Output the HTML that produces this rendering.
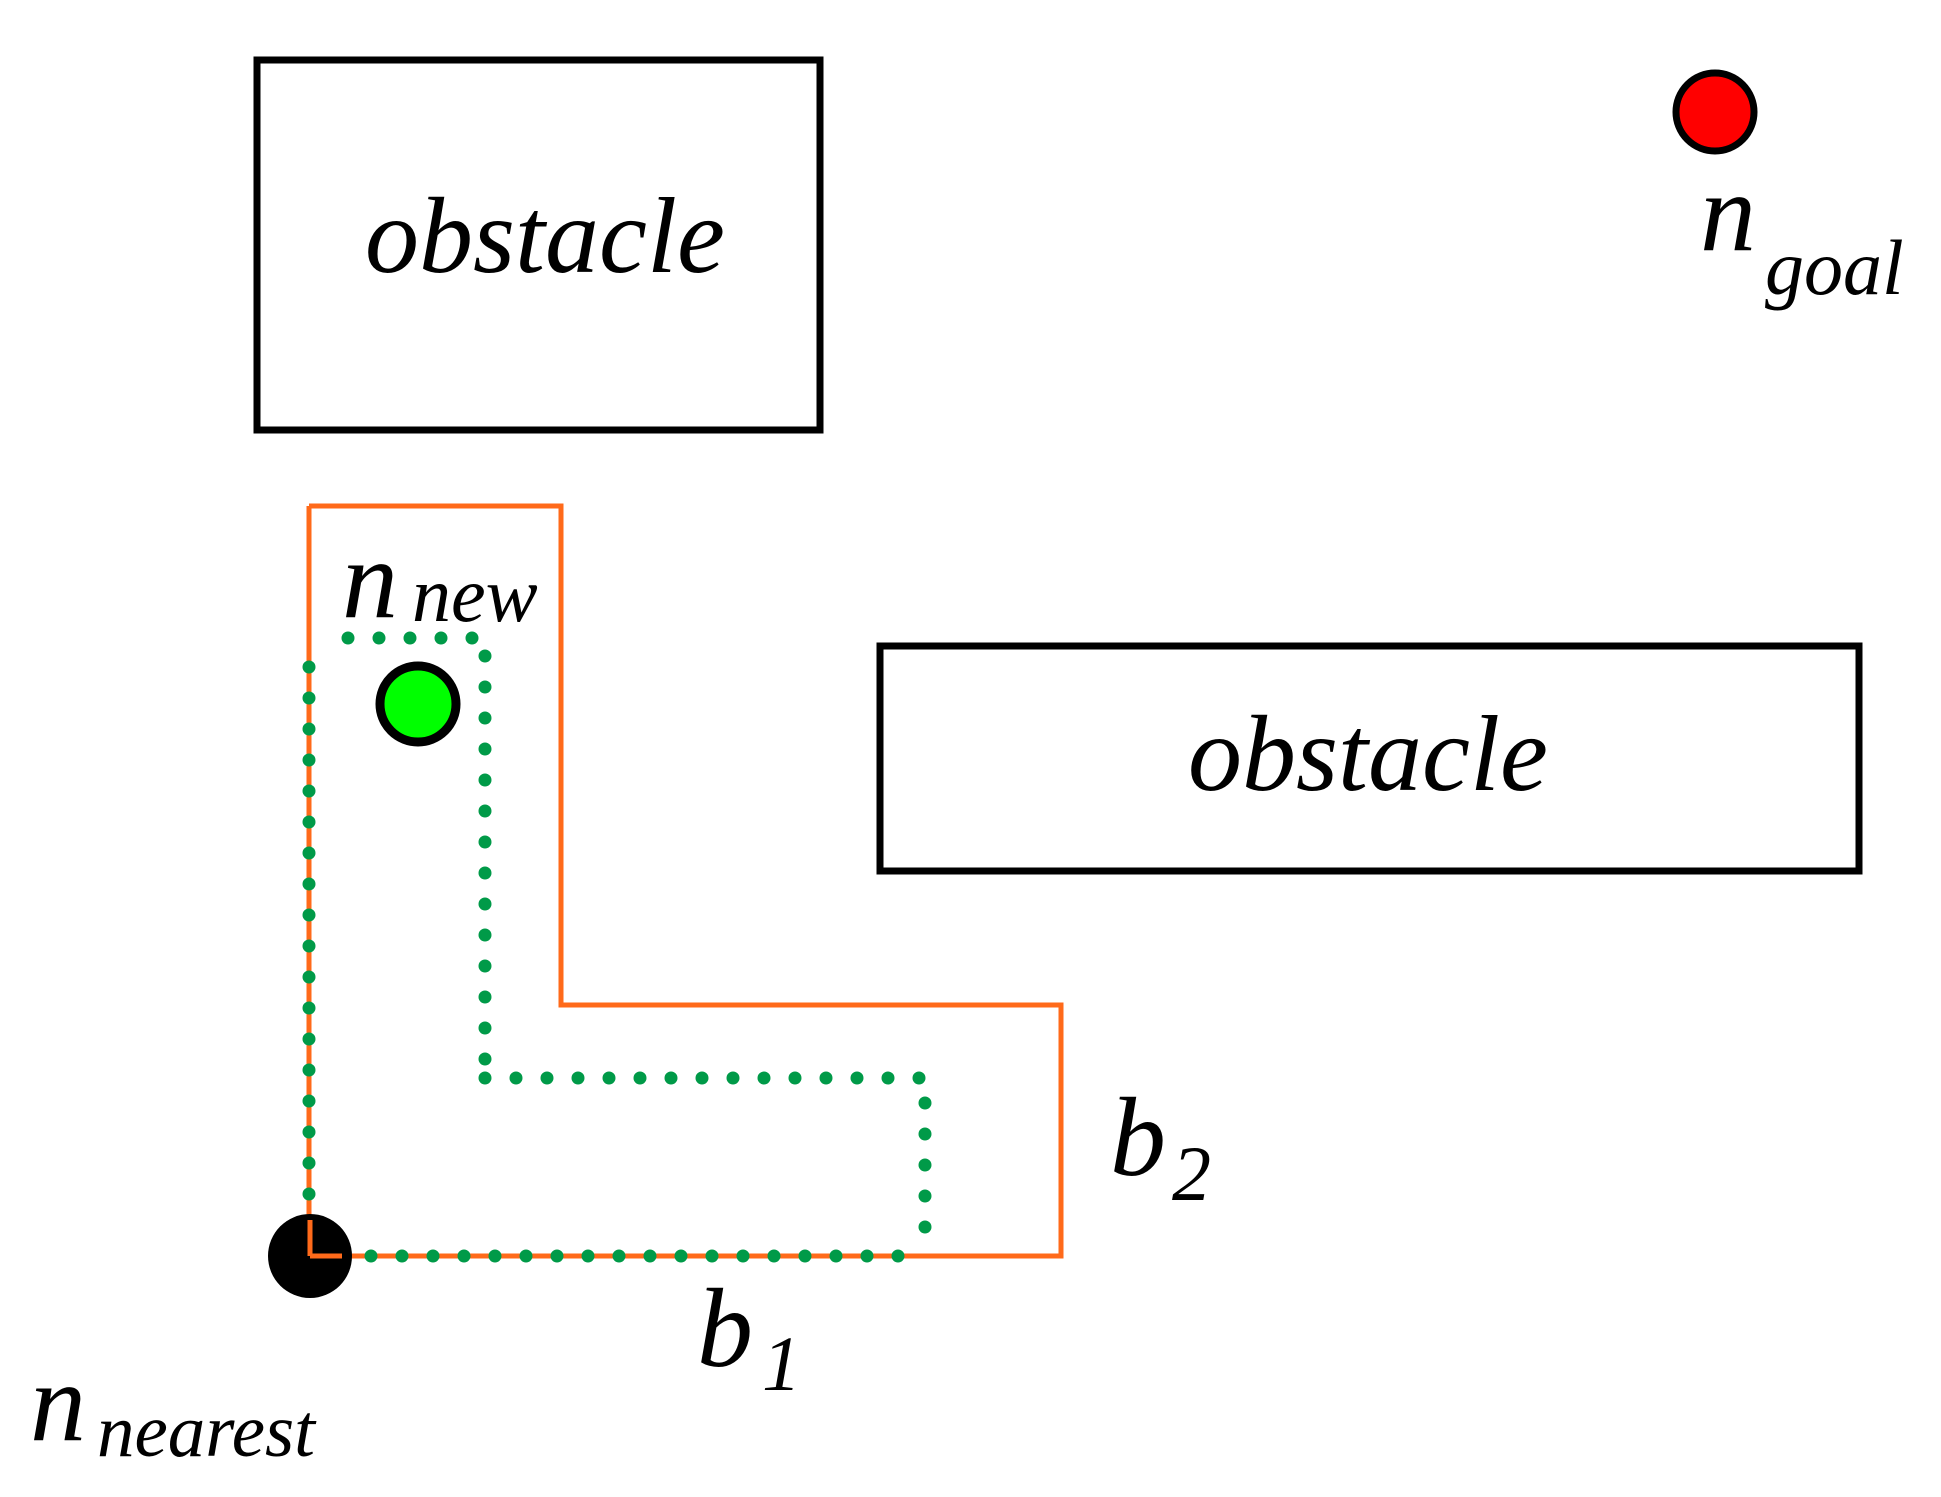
<!DOCTYPE html>
<html><head><meta charset="utf-8"><style>
html,body{margin:0;padding:0;background:#fff;}
svg text{font-family:"Liberation Serif",serif;font-style:italic;fill:#000;}
</style></head><body>
<svg width="1941" height="1492" viewBox="0 0 1941 1492" xmlns="http://www.w3.org/2000/svg">
<rect x="257" y="60" width="563" height="370" fill="none" stroke="#000" stroke-width="7"/>
<text x="365" y="272" font-size="108">obstacle</text>
<rect x="880" y="646" width="979" height="225" fill="none" stroke="#000" stroke-width="7"/>
<text x="1188" y="790" font-size="108">obstacle</text>
<circle cx="1715" cy="112" r="39" fill="#f00" stroke="#000" stroke-width="7"/>
<text x="1700" y="250" font-size="112">n</text>
<text x="1765" y="294" font-size="78">goal</text>
<polyline points="309,506 561,506 561,1005 1061,1005 1061,1256 309,1256 309,506" fill="none" stroke="#ff6a1a" stroke-width="5"/>
<g fill="none" stroke="#009a48" stroke-width="13" stroke-linecap="round" stroke-dasharray="0 31">
<path d="M309,1256 L309,638"/>
<path d="M348,638 L485,638 L485,1078"/>
<path d="M485,1078 L925,1078 L925,1256"/>
<path d="M340,1256 L925,1256"/>
</g>
<circle cx="418" cy="704" r="38" fill="#0f0" stroke="#000" stroke-width="9"/>
<text x="342" y="617" font-size="112">n</text>
<text x="412" y="621" font-size="78">new</text>
<circle cx="310" cy="1256" r="42" fill="#000"/>
<path d="M310,1256 L342,1256 M310,1256 L310,1220" stroke="#ff6a1a" stroke-width="5" fill="none"/>
<text x="1110" y="1175" font-size="112">b</text>
<text x="1172" y="1200" font-size="78">2</text>
<text x="697" y="1366" font-size="112">b</text>
<text x="762" y="1390" font-size="78">1</text>
<text x="30" y="1440" font-size="112">n</text>
<text x="97" y="1456" font-size="75">nearest</text>
</svg>
</body></html>
